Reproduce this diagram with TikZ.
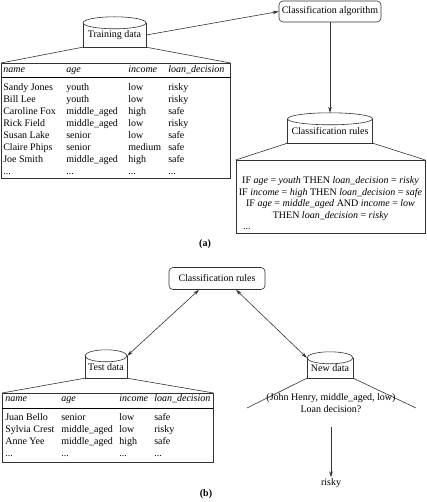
\documentclass[tikz,border=0pt]{standalone}
\usepackage{fontspec}
\setmainfont{Liberation Serif}
\usepackage{array}
\usetikzlibrary{arrows.meta,calc}
\setlength{\tabcolsep}{0pt}
\newcommand\mycyl[2]{%
  \draw[ln] (#1.north west) -- (#1.south west) -- (#1.south east) -- (#1.north east);
  \draw[ln] (#1.north) ellipse [x radius=#2, y radius=6pt];}
\begin{document}
\begin{tikzpicture}[x=1pt,y=-1pt,
  ln/.style={draw=black!80, line width=0.6pt},
  arr/.style={ln,-{Stealth[length=6pt,width=3.6pt]}},
  darr/.style={ln,{Stealth[length=6pt,width=3.6pt]}-{Stealth[length=6pt,width=3.6pt]}},
  rbox/.style={ln, rounded corners=4pt, inner sep=0pt, minimum height=21pt},
  cylbody/.style={inner sep=0pt},
  tbl/.style={ln, inner sep=0pt},
  lbl/.style={font=\bfseries}]
\useasboundingbox (0,0) rectangle (426,502);

% ---------- part (a)
\node[rbox, minimum width=102pt] (ca) at (330,11.5) {Classification algorithm};
\node[cylbody, minimum width=63pt, minimum height=24pt] (td) at (114.5,35) {Training data};
\mycyl{td}{31.5pt}
\node[tbl, anchor=north west] (t1) at (1,63) {%
\begin{tabular}{@{\hspace{2pt}}p{63pt}p{62pt}p{40pt}p{62pt}@{}}
\rule[-4.6pt]{0pt}{13.4pt}\textit{name} & \textit{age} & \textit{income} & \textit{loan\_decision}\\ \hline
\rule{0pt}{13.5pt}Sandy Jones & youth & low & risky\\
Bill Lee & youth & low & risky\\
Caroline Fox & middle\_aged & high & safe\\
Rick Field & middle\_aged & low & risky\\
Susan Lake & senior & low & safe\\
Claire Phips & senior & medium & safe\\
Joe Smith & middle\_aged & high & safe\\
... & ... & ... & ...
\end{tabular}};
\draw[ln] (td.south west) -- (t1.north west);
\draw[ln] (td.south east) -- (t1.north east);
\draw[arr] (td.east) -- (ca.west);

\node[cylbody, minimum width=85pt, minimum height=24pt] (cr) at (330,131) {Classification rules};
\mycyl{cr}{42.5pt}
\draw[arr] (ca.south) -- ($(cr.north)+(0pt,6pt)$);
\node[tbl, anchor=north, font=\fontsize{10}{11.5}\selectfont] (rb) at (330.5,160) {%
\begin{tabular}{@{}>{\centering\arraybackslash}p{189pt}@{}}
\rule{0pt}{23.5pt}IF \textit{age} = \textit{youth} THEN \textit{loan\_decision} = \textit{risky}\\
IF \textit{income} = \textit{high} THEN \textit{loan\_decision} = \textit{safe}\\
IF \textit{age} = \textit{middle\_aged} AND \textit{income} = \textit{low}\\
THEN \textit{loan\_decision} = \textit{risky}\\
\multicolumn{1}{@{\hspace{7pt}}l@{}}{...}
\end{tabular}};
\draw[ln] (cr.south west) -- (rb.north west);
\draw[ln] (cr.south east) -- (rb.north east);
\node[lbl] (la) at (205,244) {(a)};

% ---------- part (b)
\node[rbox, minimum width=96pt, minimum height=22pt] (cr2) at (217,278.5) {Classification rules};
\node[cylbody, minimum width=42pt, minimum height=22pt] (tsd) at (106,367) {Test data};
\mycyl{tsd}{21pt}
\node[tbl, anchor=north west] (t2) at (2,393) {%
\begin{tabular}{@{\hspace{3pt}}p{56pt}p{58pt}p{35pt}p{59pt}@{}}
\rule[-6pt]{0pt}{14pt}\textit{name} & \textit{age} & \textit{income} & \textit{loan\_decision}\\ \hline
\rule{0pt}{12.5pt}Juan Bello & senior & low & safe\\
Sylvia Crest & middle\_aged & low & risky\\
Anne Yee & middle\_aged & high & safe\\
\rule[-5.5pt]{0pt}{0pt}... & ... & ... & ...
\end{tabular}};
\draw[ln] (tsd.south west) -- (t2.north west);
\draw[ln] (tsd.south east) -- (t2.north east);
\draw[darr] ($(cr2.south)+(-18pt,0pt)$) -- (tsd.north east);

\node[cylbody, minimum width=46pt, minimum height=20pt] (nd) at (330,368) {New data};
\mycyl{nd}{23pt}
\draw[darr] ($(cr2.south)+(19pt,0pt)$) -- (nd.north west);
\coordinate (ndl) at (247,408);
\coordinate (ndr) at (416,408);
\draw[ln] (nd.south west) -- (ndl);
\draw[ln] (nd.south east) -- (ndr);
\node[align=center, inner sep=0pt] (q) at (331,403) {(John Henry, middle\_aged, low)\\Loan decision?};
\coordinate (qa) at (331,427);
\node[inner sep=1pt] (rk) at (331,483) {risky};
\draw[arr] (qa) -- (rk.north);
\node[lbl] (lb) at (206,494) {(b)};
\end{tikzpicture}
\end{document}
